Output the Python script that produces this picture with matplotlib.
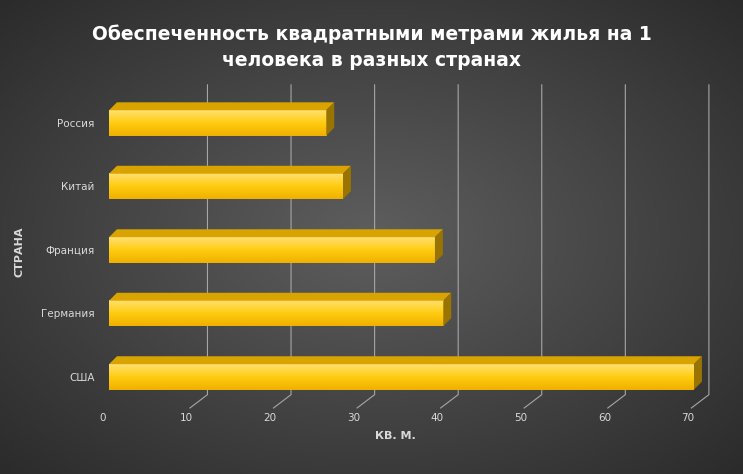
import numpy as np
import matplotlib.pyplot as plt
from matplotlib.colors import LinearSegmentedColormap
from matplotlib.patches import Polygon
from matplotlib.transforms import ScaledTranslation

countries = ['США', 'Германия', 'Франция', 'Китай', 'Россия']
values = [70, 40, 39, 28, 26]
xticks = [0, 10, 20, 30, 40, 50, 60, 70]

fig = plt.figure(figsize=(7.43, 4.74), dpi=100)

# radial dark background
bg = fig.add_axes([0, 0, 1, 1])
yy, xx = np.mgrid[-1:1:300j, -1:1:470j]
r = np.clip(np.sqrt(xx**2 + yy**2) / 1.414, 0, 1)
bgcmap = LinearSegmentedColormap.from_list('bg', ['#5e5e5e', '#2b2b2b'])
bg.imshow(r, cmap=bgcmap, vmin=0, vmax=1, aspect='auto', extent=[0, 1, 0, 1])
bg.axis('off')

ax = fig.add_axes([103/743, 1 - 408/474, 585/743, 313/474])
ax.set_facecolor('none')
for s in ax.spines.values():
    s.set_visible(False)

# gridlines in back plane, slanting to front floor
gx, ytop, yfl = 2.5, 4.6, -0.28
for t in xticks[1:]:
    ax.plot([t + gx, t + gx, t + 0.4], [ytop, yfl, -0.49], color='#a6a6a6', lw=0.8, clip_on=False, zorder=1)

shift = ScaledTranslation(6/100, 0, fig.dpi_scale_trans)
tr = ax.transData + shift
h = 0.4
dx, dy = 0.95, 0.125
ys = np.arange(len(countries))
barcmap = LinearSegmentedColormap.from_list('g', ['#f0b000', '#ffcc10', '#ffe070'])
for y, v in zip(ys, values):
    grad = np.linspace(0, 1, 50).reshape(-1, 1)
    ax.imshow(grad, cmap=barcmap, extent=[0, v, y - h/2, y + h/2],
              aspect='auto', origin='lower', transform=tr, zorder=3, clip_on=False)
    top = Polygon([[0, y + h/2], [v, y + h/2], [v + dx, y + h/2 + dy], [dx, y + h/2 + dy]],
                  closed=True, fc='#d9a400', ec='none', transform=tr, zorder=3, clip_on=False)
    side = Polygon([[v, y - h/2], [v + dx, y - h/2 + dy], [v + dx, y + h/2 + dy], [v, y + h/2]],
                   closed=True, fc='#9a7400', ec='none', transform=tr, zorder=3, clip_on=False)
    ax.add_patch(top)
    ax.add_patch(side)
ax.set_xlim(0, 70)
ax.set_ylim(-0.49, 4.44)

ax.set_xticks(xticks)
ax.set_yticks(ys)
ax.set_yticklabels(countries)
ax.tick_params(colors='#d9d9d9', labelsize=7.5, length=0)
ax.tick_params(axis='y', pad=6)
ax.set_xlabel('КВ. М.', color='#d9d9d9', fontsize=8, fontweight='bold', labelpad=6)
ax.set_ylabel('СТРАНА', color='#d9d9d9', fontsize=8, fontweight='bold', labelpad=12)

fig.text(0.5, 0.9, 'Обеспеченность квадратными метрами жилья на 1\nчеловека в разных странах',
         ha='center', va='center', color='white', fontsize=13.5, fontweight='bold', linespacing=1.5)

fig.savefig('out.png', dpi=100)
